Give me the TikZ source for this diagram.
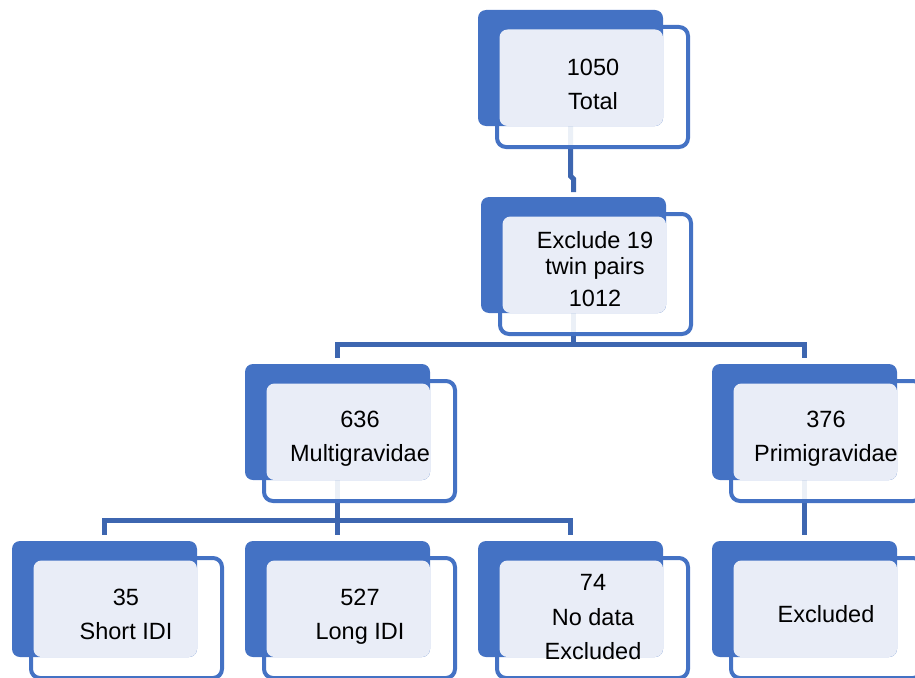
\documentclass[tikz,border=0pt]{standalone}
\usepackage{fontspec}
\setmainfont{Liberation Sans}
\usetikzlibrary{calc}
\definecolor{bblue}{HTML}{4472C4}
\definecolor{cblue}{HTML}{3D66B0}
\definecolor{lfill}{HTML}{E9EDF7}
\pgfdeclarelayer{background}
\pgfsetlayers{background,main}
\tikzset{
  frontbox/.style={draw=bblue, line width=4pt, fill=white, fill opacity=0.9, rounded corners=9pt,
    minimum width=191pt, minimum height=120pt, inner sep=0pt, outer sep=0pt},
  backbox/.style={fill=bblue, rounded corners=8pt, minimum width=185pt, minimum height=116pt,
    inner sep=0pt, outer sep=0pt},
  lightbox/.style={fill=lfill, rounded corners=8pt, minimum width=163.5pt, minimum height=96.5pt,
    inner sep=0pt, outer sep=0pt},
  txt/.style={font=\fontsize{23.5}{27}\selectfont, align=center, inner sep=0pt, text=black},
  conn/.style={draw=cblue, line width=5pt},
}
\newcommand\smbox[6]{%
  \node[frontbox] (#1F) at (#2+114.5,#3+77) {};
  \node[backbox] (#1) at (#2+92.5,#3+58) {};
  \node[lightbox] (#1L) at (#2+103.25,#3+67.75) {};
  \node[txt] (#1T) at (#4,#5) {#6};
}
\begin{document}
\begin{tikzpicture}[x=1pt,y=-1pt]
\useasboundingbox (0,0) rectangle (915,677);
\smbox{top}{478}{10}{593}{84}{1050\\[7pt]Total}
\smbox{sec}{481}{197}{595}{269}{Exclude 19\\[-1pt]twin pairs\\[5pt]1012}
\smbox{mul}{245}{364}{360}{439}{636\\[7pt]Multigravidae}
\smbox{pri}{712}{364}{826}{439}{376\\[7pt]Primigravidae}
\smbox{sho}{12}{541}{126}{614.5}{35\\[7pt]Short IDI}
\smbox{lon}{245}{541}{360}{617}{527\\[7pt]Long IDI}
\smbox{nod}{478}{541}{593}{617.5}{74\\[8pt]No data\\[7pt]Excluded}
\smbox{exr}{712}{541}{826}{614}{Excluded}
\coordinate (j1) at (0,344.5);
\coordinate (j2) at (0,520.5);
\begin{pgfonlayer}{background}
  \draw[conn, shorten >=5pt] (top.center) -- ++(0,108) -- ++(3,3) -- (sec.north);
  \draw[conn, shorten >=6pt] (sec.center) -- (sec.center |- j1) -| (mul.north);
  \draw[conn, shorten >=6pt] (sec.center |- j1) -| (pri.north);
  \draw[conn, shorten >=6pt] (mul.center) -- (mul.center |- j2) -| (sho.north);
  \draw[conn, shorten >=6pt] (mul.center |- j2) -| (nod.north);
  \draw[conn, shorten >=6pt] (mul.center) -- (lon.north);
  \draw[conn, shorten >=6pt] (pri.center) -- (exr.north);
\end{pgfonlayer}
\end{tikzpicture}
\end{document}
